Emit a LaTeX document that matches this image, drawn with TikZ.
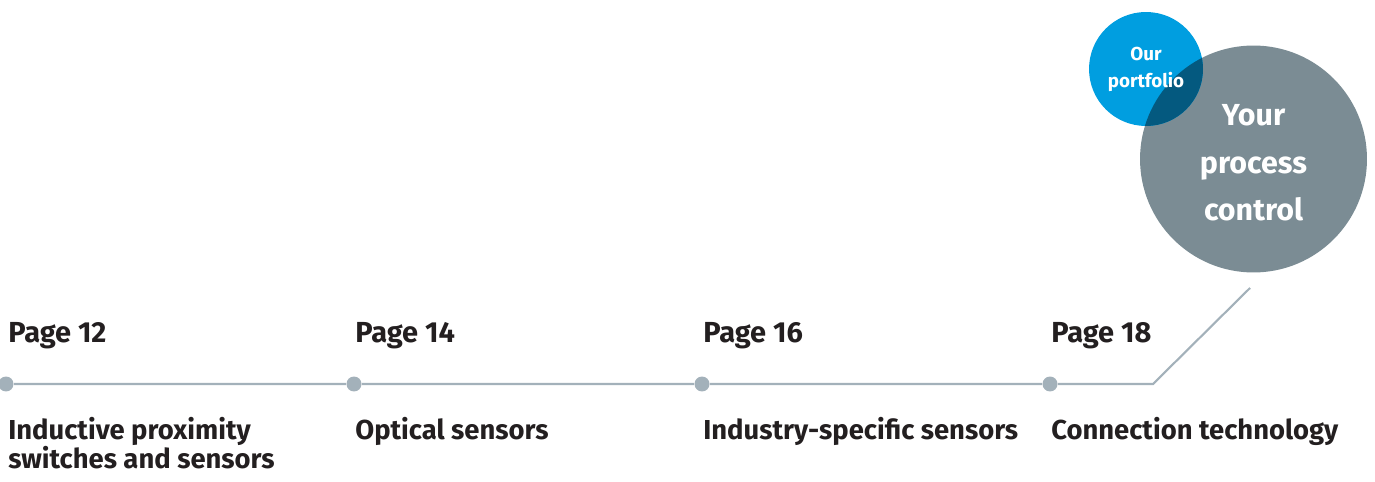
\documentclass[tikz,border=0pt]{standalone}
\usepackage{fontspec}
\setmainfont{Fira Sans}
\usepackage{tikz}
\usetikzlibrary{positioning}
\lineskiplimit=-100pt
\definecolor{inkdark}{HTML}{231F20}
\definecolor{railgrey}{HTML}{A3B1BA}
\definecolor{portblue}{HTML}{009EE0}
\definecolor{procgrey}{HTML}{7B8C94}
\definecolor{mixblue}{HTML}{04597F}
\tikzstyle{station} = [circle, inner sep=0pt, minimum size=0.3cm, fill=railgrey]
\tikzstyle{pagelabel} = [anchor=base west, inner sep=0pt, text=inkdark, font=\fontsize{16.5}{16.2}\selectfont\bfseries]
\tikzstyle{topic} = [anchor=base west, inner sep=0pt, align=left, text=inkdark, font=\fontsize{15.6}{16.2}\selectfont\bfseries]
\tikzstyle{rail} = [line width=1.2pt, draw=railgrey]
\tikzstyle{proccircle} = [circle, inner sep=0pt, minimum size=4.54cm, fill=procgrey, text=white, align=center, font=\fontsize{17.3}{27}\selectfont\bfseries]
\tikzstyle{portcircle} = [circle, inner sep=0pt, minimum size=2.28cm, fill=portblue, text=white, align=center, font=\fontsize{10.7}{15.3}\selectfont\bfseries]

\begin{document}
\begin{tikzpicture}[x=0.02cm, y=-0.02cm]
    \useasboundingbox (0,0) rectangle (1375,482);

    % timeline
    \node(dot12)[station] at (6,384){};
    \node(dot14)[station] at (354,384){};
    \node(dot16)[station] at (702,384){};
    \node(dot18)[station] at (1050,384){};
    \coordinate(bend) at (1153,384);
    \coordinate(tail) at (1250,288);
    \draw[rail](dot12) -- (dot14) -- (dot16) -- (dot18) -- (bend) -- (tail);

    \node(page12)[pagelabel] at (8,343){Page 12};
    \node(page14)[pagelabel] at (355,343){Page 14};
    \node(page16)[pagelabel] at (703,343){Page 16};
    \node(page18)[pagelabel] at (1051,343){Page 18};

    \node(inductive)[topic] at (8,468){Inductive proximity\\switches and sensors};
    \node(optical)[topic] at (355,439){Optical sensors};
    \node(industry)[topic] at (703,439){Industry-specific sensors};
    \node(connection)[topic] at (1051,439){Connection technology};

    % circles
    \node(process)[proccircle] at (1253.5,159){\rule{0pt}{16.5pt}Your\\process\\control};
    \node(portfolio)[portcircle, path picture={\fill[mixblue] (process.center) circle (2.27cm);}] at (1146,69){Our\\portfolio};
\end{tikzpicture}
\end{document}
